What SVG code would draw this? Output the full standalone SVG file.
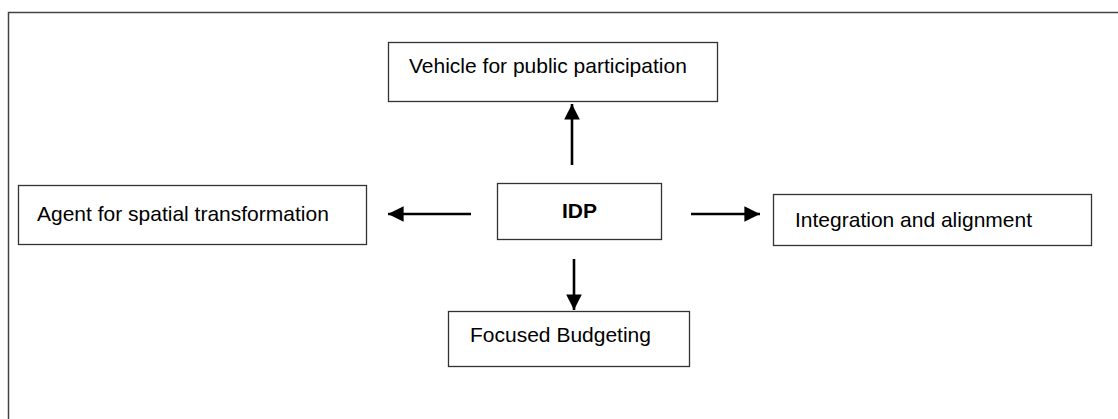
<svg xmlns="http://www.w3.org/2000/svg" width="1118" height="419" viewBox="0 0 1118 419">
<style>
.box{fill:#fff;stroke:#333;stroke-width:1.3}
.t{font-family:"Liberation Sans",Arial,sans-serif;font-size:21px;fill:#000}
.b{font-weight:bold}
.c{stroke:#000;stroke-width:2.6;fill:none}
</style>
<defs>
<marker id="ah" markerWidth="6" markerHeight="6" refX="6" refY="3" orient="auto" markerUnits="strokeWidth" viewBox="0 0 6 6">
<path d="M0,0 L6,3 L0,6 Z" fill="#000"/>
</marker>
</defs>
<rect width="1118" height="419" fill="#fff"/>
<path d="M8.5,419 V12.5 H1118" fill="none" stroke="#444" stroke-width="1.5"/>
<g id="vehicle"><rect class="box" x="388.5" y="42.5" width="329" height="59"/><text class="t" x="409" y="73">Vehicle for public participation</text></g>
<g id="agent"><rect class="box" x="18.5" y="185.5" width="348" height="59"/><text class="t" x="37" y="221">Agent for spatial transformation</text></g>
<g id="idp"><rect class="box" x="497.5" y="183.5" width="164" height="56"/><text class="t b" x="562" y="218">IDP</text></g>
<g id="integration"><rect class="box" x="773.5" y="194.5" width="318" height="51"/><text class="t" x="795" y="227">Integration and alignment</text></g>
<g id="focused"><rect class="box" x="448.5" y="311.5" width="241" height="55"/><text class="t" x="470" y="342">Focused Budgeting</text></g>
<g id="connectors">
<line class="c" x1="572" y1="165" x2="572" y2="104" marker-end="url(#ah)"/>
<line class="c" x1="471" y1="214" x2="388" y2="214" marker-end="url(#ah)"/>
<line class="c" x1="691" y1="214" x2="760" y2="214" marker-end="url(#ah)"/>
<line class="c" x1="574" y1="259" x2="574" y2="310" marker-end="url(#ah)"/>
</g>
</svg>
